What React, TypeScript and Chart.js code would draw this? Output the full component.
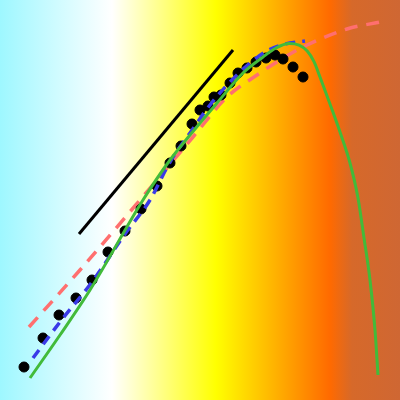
import React, { useEffect, useRef } from "react";
import { Chart, registerables } from "chart.js";

Chart.register(...registerables);

// Observed sample points
const pointX = [6, 10.75, 14.75, 19, 23, 27, 31.25, 35.25, 39.25, 42.5, 45.25, 48, 50, 52, 53.5, 55.25, 57.5, 59.5, 61.75, 64, 66.5, 68.75, 70.75, 73.25, 75.75];
const pointY = [8.25, 15.5, 21.25, 25.5, 30, 37, 42.25, 47.75, 53.5, 59.25, 63.5, 69, 72.5, 73.5, 75.75, 76.25, 79.25, 81.75, 83, 84.5, 85.5, 86.25, 85.25, 83.25, 80.75];

// Straight reference line
const lineX = [19.75, 58.25];
const lineY = [41.5, 87.5];

// Red dashed fit
const redX = [7.25, 20, 35, 48.25, 56.75, 64.25, 70, 76.75, 86.75, 95];
const redY = [18.25, 32.5, 50, 65.75, 75.75, 81.25, 85, 88.75, 92.75, 94.5];

// Blue dashed fit
const blueX = [8.25, 15, 23, 31.25, 37.5, 42.5, 47.5, 52.5, 57.5, 62.5, 66.75, 71.25, 76.25];
const blueY = [10.5, 19.5, 29.5, 41.5, 50, 59.5, 66.75, 73.75, 79.5, 84.25, 87.25, 89, 89.75];

// Green fit
const greenX = [7.5, 15, 22.5, 35.75, 42.5, 47.5, 54.25, 60.75, 65.75, 69, 72.25, 74.75, 76.75, 78.5, 80, 82.5, 85, 87.5, 89.5, 91, 92.5, 93.75, 94.5];
const greenY = [5.5, 16.25, 27.5, 50, 60, 66.25, 74.25, 81.75, 85.75, 88, 89.1, 88.7, 87.3, 84.6, 80.75, 74, 67, 59.25, 50.5, 40.5, 30, 17.5, 6.25];

const zip = (xs: number[], ys: number[]) => xs.map((x, i) => ({ x, y: ys[i] }));

const bgPlugin = {
  id: "bgGradient",
  beforeDraw(chart: any) {
    const { ctx, width, height } = chart;
    const g = ctx.createLinearGradient(0, 0, width, 0);
    g.addColorStop(0, "#9ef7ff");
    g.addColorStop(0.28, "#ffffff");
    g.addColorStop(0.54, "#ffff00");
    g.addColorStop(0.825, "#ff6a00");
    g.addColorStop(0.88, "#d6692a");
    g.addColorStop(1, "#cf6733");
    ctx.save();
    ctx.fillStyle = g;
    ctx.fillRect(0, 0, width, height);
    ctx.restore();
  },
};

export default function App() {
  const ref = useRef<HTMLCanvasElement | null>(null);
  useEffect(() => {
    if (!ref.current) return;
    const chart = new Chart(ref.current, {
      type: "scatter",
      data: {
        datasets: [
          {
            data: zip(greenX, greenY),
            showLine: true,
            borderColor: "#42bb3a",
            borderWidth: 3,
            pointRadius: 0,
            cubicInterpolationMode: "monotone",
            order: 0,
          } as any,
          {
            data: zip(blueX, blueY),
            showLine: true,
            borderColor: "#3a3ae8",
            borderWidth: 3.5,
            borderDash: [10, 7],
            pointRadius: 0,
            cubicInterpolationMode: "monotone",
            order: 1,
          },
          {
            data: zip(pointX, pointY),
            backgroundColor: "#000000",
            borderColor: "#000000",
            pointRadius: 5,
            order: 2,
          },
          {
            data: zip(redX, redY),
            showLine: true,
            borderColor: "#ff6f6f",
            borderWidth: 3.5,
            borderDash: [13, 9],
            pointRadius: 0,
            cubicInterpolationMode: "monotone",
            order: 3,
          },
          {
            data: zip(lineX, lineY),
            showLine: true,
            borderColor: "#000000",
            borderWidth: 3,
            pointRadius: 0,
            order: 4,
          },
        ],
      },
      options: {
        animation: false,
        responsive: false,
        layout: { padding: 0, autoPadding: false },
        plugins: { legend: { display: false }, tooltip: { enabled: false } },
        scales: {
          x: { type: "linear", min: 0, max: 100, display: false },
          y: { type: "linear", min: 0, max: 100, display: false },
        },
      },
      plugins: [bgPlugin],
    });
    return () => chart.destroy();
  }, []);
  return (
    <div style={{ position: "fixed", left: 0, top: 0, width: 400, height: 400 }}>
      <canvas ref={ref} width={400} height={400} />
    </div>
  );
}
